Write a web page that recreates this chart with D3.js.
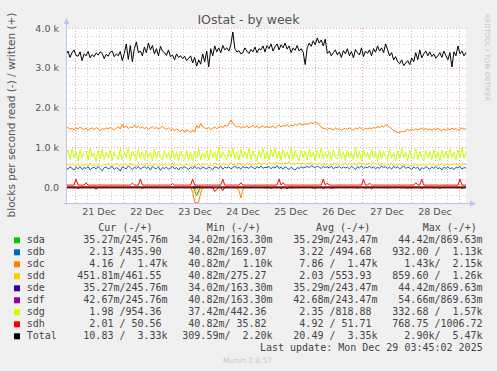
<!DOCTYPE html>
<html>
<head>
<meta charset="utf-8">
<script src="https://cdn.jsdelivr.net/npm/d3@7"></script>
<style>
  body { margin: 0; background: #f0f0f0; }
  svg { display: block; }
</style>
</head>
<body>
<svg id="chart" width="497" height="371"></svg>
<script>
// --- data (blocks/s, 1 sample per hour) ---
const xTickLabels = ['21 Dec', '22 Dec', '23 Dec', '24 Dec', '25 Dec', '26 Dec', '27 Dec', '28 Dec']
const yTickValues = [0, 1000, 2000, 3000, 4000]
const yTickLabels = ['0.0', '1.0 k', '2.0 k', '3.0 k', '4.0 k']

const totalWrite = [
  3330, 3420, 3260, 3380, 3450, 3310, 3290, 3400, 3180, 3350,
  3300, 3410, 3250, 3330, 3280, 3370, 3320, 3400, 3360, 3230,
  3340, 3290, 3390, 3420, 3280, 3350, 3300, 3410, 3180, 3360,
  3600, 3210, 3560, 3150, 3480, 3650, 3380, 3420, 3300, 3520,
  3380, 3620, 3450, 3560, 3350, 3480, 3300, 3540, 3420, 3380,
  3310, 3450, 3280, 3320, 3200, 3350, 3260, 3300, 3230, 3290,
  3180, 3240, 3300, 3120, 3260, 3040, 3200, 3090, 3350, 3150,
  3420, 3020, 3480, 3300, 3550, 3400, 3500, 3380, 3560, 3450,
  3500, 3420, 3580, 3900, 3480, 3400, 3430, 3350, 3380, 3500,
  3420, 3360, 3460, 3400, 3520, 3380, 3480, 3450, 3550, 3400,
  3560, 3480, 3600, 3420, 3530, 3600, 3450, 3580, 3500, 3620,
  3470, 3550, 3380, 3500, 3440, 3560, 3420, 3480, 3390, 3080,
  3500, 3620, 3540, 3680, 3580, 3750, 3620, 3700, 3550, 3720,
  3360, 3420, 3300, 3380, 3450, 3320, 3400, 3260, 3430, 3350,
  3480, 3300, 3410, 3250, 3460, 3380, 3320, 3500, 3280, 3420,
  3360, 3450, 3300, 3480, 3390, 3550, 3420, 3500, 3380, 3600,
  3450, 3300, 3380, 3200, 3280, 3150, 3100, 3200, 3050, 3120,
  3180, 3080, 3250, 3150, 3380, 3200, 3450, 3250, 3350, 3420,
  3300, 3400, 3280, 3350, 3240, 3300, 3380, 3260, 3420, 3310,
  3200, 3380, 3020, 3400, 3300, 3550, 3350, 3420, 3300, 3380
]
const sdcWrite = [
  1470, 1500, 1450, 1480, 1440, 1490, 1460, 1510, 1470, 1450,
  1480, 1430, 1470, 1490, 1440, 1500, 1460, 1420, 1470, 1450,
  1490, 1460, 1500, 1470, 1440, 1480, 1520, 1460, 1580, 1500,
  1540, 1470, 1510, 1490, 1560, 1500, 1530, 1480, 1510, 1470,
  1500, 1450, 1490, 1520, 1470, 1500, 1460, 1490, 1530, 1480,
  1450, 1490, 1440, 1470, 1420, 1460, 1430, 1400, 1450, 1380,
  1440, 1410, 1370, 1430, 1390, 1550, 1480, 1600, 1520, 1490,
  1460, 1500, 1440, 1480, 1510, 1470, 1500, 1530, 1490, 1560,
  1520, 1580, 1690, 1600, 1550, 1510, 1530, 1480, 1520, 1500,
  1540, 1490, 1520, 1560, 1500, 1530, 1480, 1510, 1550, 1490,
  1530, 1500, 1510, 1540, 1480, 1520, 1560, 1510, 1550, 1530,
  1570, 1520, 1560, 1540, 1580, 1550, 1600, 1570, 1560, 1590,
  1580, 1600, 1620, 1590, 1640, 1610, 1570, 1500, 1480, 1470,
  1450, 1480, 1460, 1440, 1490, 1450, 1470, 1430, 1460, 1480,
  1450, 1490, 1460, 1430, 1480, 1460, 1500, 1470, 1440, 1480,
  1460, 1490, 1470, 1500, 1480, 1520, 1500, 1540, 1510, 1560,
  1550, 1500, 1470, 1420, 1400, 1370, 1380, 1400, 1390, 1420,
  1450, 1420, 1460, 1430, 1470, 1440, 1460, 1480, 1450, 1470,
  1440, 1460, 1430, 1470, 1450, 1480, 1440, 1420, 1460, 1430,
  1470, 1440, 1480, 1450, 1470, 1430, 1460, 1490, 1450, 1470
]
const sdgWrite = [
  820, 930, 690, 960, 740, 880, 660, 940, 720, 870,
  910, 680, 980, 750, 860, 650, 920, 710, 950, 700,
  880, 730, 940, 670, 900, 760, 700, 970, 690, 880,
  740, 990, 660, 910, 780, 690, 950, 720, 890, 670,
  930, 750, 880, 650, 960, 710, 900, 770, 680, 920,
  730, 870, 680, 940, 700, 890, 660, 910, 760, 700,
  930, 670, 880, 650, 900, 730, 970, 690, 860, 720,
  920, 680, 950, 740, 890, 660, 1000, 730, 900, 760,
  690, 940, 730, 990, 710, 900, 670, 950, 750, 880,
  720, 980, 690, 910, 760, 650, 930, 740, 970, 710,
  900, 680, 940, 760, 990, 720, 890, 670, 950, 740,
  880, 710, 970, 690, 920, 750, 660, 930, 730, 900,
  690, 950, 750, 880, 650, 920, 740, 990, 710, 870,
  730, 910, 670, 940, 750, 700, 960, 720, 890, 660,
  920, 740, 880, 690, 1000, 710, 900, 650, 930, 750,
  870, 690, 950, 730, 880, 660, 930, 710, 900, 740,
  690, 960, 730, 870, 650, 920, 710, 980, 740, 890,
  670, 930, 750, 720, 970, 690, 900, 740, 660, 920,
  730, 890, 690, 950, 710, 880, 670, 930, 750, 900,
  710, 960, 740, 880, 690, 930, 750, 980, 720, 900
]
const sddWrite = [
  540, 570, 520, 590, 550, 530, 580, 510, 560, 545,
  575, 530, 600, 540, 560, 520, 585, 550, 530, 570,
  545, 590, 520, 565, 540, 600, 555, 530, 580, 550,
  570, 525, 610, 545, 565, 520, 590, 550, 575, 535,
  600, 545, 560, 530, 585, 555, 520, 590, 545, 570,
  530, 580, 550, 600, 525, 565, 545, 590, 520, 560,
  580, 535, 570, 510, 560, 545, 600, 530, 575, 550,
  590, 540, 565, 520, 610, 550, 575, 530, 595, 555,
  570, 540, 620, 560, 580, 545, 600, 555, 585, 540,
  605, 560, 575, 545, 590, 565, 615, 550, 580, 600,
  560, 620, 575, 590, 555, 630, 580, 600, 565, 610,
  585, 640, 570, 600, 560, 620, 590, 575, 605, 560,
  595, 570, 610, 550, 585, 565, 600, 540, 580, 555,
  590, 545, 575, 560, 600, 540, 585, 555, 570, 610,
  560, 590, 545, 600, 570, 555, 620, 565, 590, 550,
  580, 600, 560, 625, 575, 590, 545, 580, 560, 530,
  575, 550, 590, 530, 565, 545, 580, 525, 560, 540,
  575, 520, 560, 545, 590, 530, 565, 550, 580, 535,
  560, 590, 540, 575, 525, 565, 550, 595, 535, 560,
  580, 540, 570, 555, 600, 530, 565, 550, 590, 545
]
const sdbWrite = [
  480, 450, 510, 470, 430, 500, 460, 520, 440, 490,
  470, 510, 430, 480, 500, 450, 520, 460, 410, 490,
  500, 460, 480, 520, 440, 490, 470, 400, 510, 480,
  460, 530, 490, 440, 500, 470, 520, 450, 490, 510,
  470, 500, 430, 520, 480, 460, 510, 420, 490, 470,
  500, 450, 480, 520, 460, 490, 430, 500, 470, 510,
  480, 440, 500, 460, 520, 470, 490, 450, 510, 480,
  460, 500, 480, 430, 510, 490, 470, 520, 450, 500,
  480, 510, 460, 490, 530, 470, 500, 450, 520, 480,
  500, 470, 520, 490, 460, 510, 480, 530, 470, 500,
  490, 520, 460, 510, 480, 540, 470, 500, 450, 510,
  480, 440, 500, 460, 430, 490, 470, 510, 480, 500,
  520, 490, 540, 510, 480, 530, 500, 470, 520, 490,
  510, 480, 530, 460, 500, 490, 520, 470, 510, 480,
  500, 460, 520, 490, 440, 510, 480, 530, 470, 500,
  490, 520, 480, 510, 460, 500, 470, 530, 490, 510,
  470, 500, 450, 520, 480, 510, 460, 490, 530, 470,
  500, 480, 440, 510, 470, 500, 420, 490, 460, 510,
  480, 450, 500, 470, 520, 460, 490, 430, 500, 470,
  510, 460, 490, 440, 500, 480, 520, 450, 490, 480
]
const sdhWrite = [
  50, 49, 51, 50, 48, 200, 52, 50, 49, 51,
  110, 50, 48, 51, 50, 49, 52, 50, 51, 49,
  50, 48, 51, 50, 52, 49, 50, 51, 48, 50,
  49, 51, 50, 100, 52, 49, 50, 200, 51, 48,
  50, 52, 49, 50, 51, 48, 50, 49, 52, 50,
  51, 49, 50, 90, 48, 51, 50, 52, 49, 50,
  48, 51, 50, 200, 49, 52, 50, 48, 51, 50,
  49, 50, 52, 48, 51, 50, 49, 51, 200, 50,
  48, 51, 50, 49, 52, 50, 48, 110, 51, 49,
  50, 52, 49, 51, 48, 50, 51, 49, 50, 52,
  49, 50, 51, 48, 50, 52, 200, 49, 110, 51,
  50, 48, 51, 49, 52, 50, 49, 51, 50, 48,
  51, 50, 49, 52, 48, 50, 51, 49, 200, 50,
  100, 49, 51, 50, 48, 52, 49, 50, 51, 49,
  50, 52, 48, 51, 49, 50, 52, 48, 200, 50,
  49, 100, 51, 50, 48, 52, 49, 51, 50, 49,
  52, 48, 50, 51, 49, 50, 52, 48, 51, 50,
  49, 51, 50, 48, 110, 52, 49, 200, 50, 51,
  48, 50, 52, 49, 51, 50, 48, 51, 50, 49,
  52, 50, 49, 51, 48, 50, 200, 49, 51, 50
]
// reads are drawn below zero
const sdcRead = [
  8, 7, 9, 8, 6, 8, 9, 7, 8, 8,
  7, 9, 8, 8, 7, 8, 9, 8, 7, 8,
  8, 9, 7, 8, 8, 7, 9, 8, 8, 7,
  8, 8, 9, 7, 8, 8, 7, 9, 8, 8,
  7, 8, 9, 8, 7, 8, 8, 9, 7, 8,
  8, 7, 8, 9, 8, 8, 7, 8, 9, 8,
  7, 8, 9, 120, 380, 390, 380, 150, 8, 7,
  9, 8, 8, 7, 8, 9, 8, 7, 8, 8,
  9, 7, 8, 8, 9, 7, 80, 270, 60, 8,
  7, 8, 9, 8, 7, 8, 8, 9, 7, 8,
  30, 8, 7, 9, 8, 8, 7, 8, 9, 8,
  7, 8, 25, 8, 9, 7, 8, 8, 9, 7,
  8, 8, 7, 30, 8, 9, 8, 7, 8, 8,
  9, 7, 8, 25, 8, 8, 7, 9, 8, 8,
  7, 8, 9, 8, 7, 30, 8, 8, 9, 7,
  8, 8, 7, 9, 8, 8, 7, 8, 9, 8,
  25, 8, 9, 7, 8, 8, 9, 7, 8, 8,
  7, 9, 30, 8, 8, 7, 8, 9, 8, 7,
  8, 8, 9, 25, 8, 7, 8, 8, 9, 7,
  8, 8, 7, 9, 8, 8, 7, 8, 9, 8
]
const sdgRead = [
  2, 3, 2, 2, 3, 2, 2, 2, 3, 2,
  2, 2, 3, 2, 2, 3, 2, 2, 2, 3,
  2, 3, 2, 2, 2, 3, 2, 2, 3, 2,
  2, 2, 3, 2, 2, 2, 3, 2, 2, 3,
  2, 2, 2, 3, 2, 2, 3, 2, 2, 2,
  3, 2, 2, 2, 3, 2, 2, 3, 2, 2,
  2, 3, 2, 2, 150, 200, 180, 2, 3, 2,
  2, 2, 3, 2, 2, 3, 2, 2, 2, 3,
  2, 2, 3, 2, 2, 2, 3, 2, 2, 3,
  2, 2, 2, 3, 2, 2, 3, 2, 2, 2,
  3, 2, 2, 3, 2, 2, 2, 3, 2, 2,
  2, 3, 2, 2, 3, 2, 2, 2, 3, 2,
  2, 2, 3, 2, 2, 3, 2, 2, 2, 3,
  2, 2, 3, 2, 2, 2, 3, 2, 2, 3,
  2, 2, 2, 3, 2, 2, 3, 2, 2, 2,
  3, 2, 2, 3, 2, 2, 2, 3, 2, 2,
  2, 3, 2, 2, 3, 2, 2, 2, 3, 2,
  2, 2, 3, 2, 2, 3, 2, 2, 2, 3,
  2, 2, 3, 2, 2, 2, 3, 2, 2, 3,
  2, 2, 2, 3, 2, 2, 3, 2, 2, 2
]
const sddRead = [
  2, 2, 2, 3, 2, 2, 2, 2, 2, 3,
  2, 2, 2, 2, 3, 2, 2, 2, 2, 2,
  3, 2, 2, 2, 2, 2, 3, 2, 2, 2,
  2, 2, 2, 3, 2, 2, 2, 2, 2, 3,
  2, 2, 2, 2, 3, 2, 2, 2, 2, 2,
  3, 2, 2, 2, 2, 2, 3, 2, 2, 2,
  2, 2, 2, 3, 60, 80, 2, 2, 2, 3,
  2, 2, 2, 2, 3, 2, 2, 2, 2, 2,
  3, 2, 2, 2, 2, 2, 3, 2, 2, 2,
  2, 2, 2, 3, 2, 2, 2, 2, 2, 3,
  2, 2, 2, 2, 3, 2, 2, 2, 2, 2,
  3, 2, 2, 2, 2, 2, 3, 2, 2, 2,
  2, 2, 2, 3, 2, 2, 2, 2, 2, 3,
  2, 2, 2, 2, 3, 2, 2, 2, 2, 2,
  3, 2, 2, 2, 2, 2, 3, 2, 2, 2,
  2, 2, 2, 3, 2, 2, 2, 2, 2, 3,
  2, 2, 2, 2, 3, 2, 2, 2, 2, 2,
  3, 2, 2, 2, 2, 2, 3, 2, 2, 2,
  2, 2, 2, 3, 2, 2, 2, 2, 2, 3,
  2, 2, 2, 2, 3, 2, 2, 2, 2, 2
]
const sdbRead = [
  3, 3, 4, 3, 3, 3, 4, 3, 3, 3,
  4, 3, 3, 3, 4, 3, 3, 3, 4, 3,
  3, 3, 4, 3, 3, 3, 4, 3, 3, 3,
  4, 3, 3, 3, 4, 3, 3, 3, 4, 3,
  3, 3, 4, 3, 3, 3, 4, 3, 3, 3,
  4, 3, 3, 3, 4, 3, 3, 3, 4, 3,
  3, 3, 4, 3, 100, 220, 90, 3, 3, 3,
  4, 3, 3, 3, 4, 3, 3, 3, 4, 3,
  3, 3, 4, 3, 3, 3, 4, 3, 3, 3,
  4, 3, 3, 3, 4, 3, 3, 3, 4, 3,
  3, 3, 4, 3, 3, 3, 4, 3, 3, 3,
  4, 3, 3, 3, 4, 3, 3, 3, 4, 3,
  3, 3, 4, 3, 3, 3, 4, 3, 3, 3,
  4, 3, 3, 3, 4, 3, 3, 3, 4, 3,
  3, 3, 4, 3, 3, 3, 4, 3, 3, 3,
  4, 3, 3, 3, 4, 3, 3, 3, 4, 3,
  3, 3, 4, 3, 3, 3, 4, 3, 3, 3,
  4, 3, 3, 3, 4, 3, 3, 3, 4, 3,
  3, 3, 4, 3, 3, 3, 4, 3, 3, 3,
  4, 3, 3, 3, 4, 3, 3, 3, 4, 3
]
const sdhRead = [
  4, 5, 4, 4, 5, 4, 40, 4, 5, 4,
  4, 5, 4, 4, 5, 60, 4, 4, 5, 4,
  4, 5, 4, 4, 5, 4, 4, 5, 4, 4,
  5, 4, 4, 5, 4, 4, 5, 4, 30, 4,
  4, 5, 4, 4, 5, 4, 4, 5, 4, 4,
  5, 4, 4, 5, 4, 4, 5, 4, 4, 5,
  4, 4, 5, 4, 30, 4, 5, 4, 4, 5,
  4, 4, 5, 4, 110, 60, 4, 4, 90, 4,
  5, 4, 4, 5, 4, 4, 5, 4, 4, 5,
  4, 4, 5, 4, 4, 5, 4, 4, 5, 4,
  4, 5, 30, 4, 4, 5, 4, 40, 4, 5,
  40, 4, 5, 4, 4, 5, 4, 4, 5, 4,
  4, 5, 4, 4, 35, 4, 4, 5, 40, 4,
  4, 5, 30, 4, 4, 5, 4, 4, 5, 4,
  4, 5, 4, 4, 5, 4, 4, 5, 4, 35,
  4, 5, 40, 4, 4, 5, 4, 4, 5, 4,
  4, 5, 4, 4, 5, 4, 4, 5, 4, 4,
  30, 4, 5, 4, 4, 5, 4, 40, 4, 4,
  5, 4, 4, 5, 4, 4, 35, 4, 4, 5,
  4, 4, 5, 4, 4, 5, 4, 40, 4, 4
]
const totalRead = [
  20, 21, 19, 20, 22, 20, 21, 19, 20, 21,
  20, 19, 21, 20, 20, 22, 19, 20, 21, 20,
  19, 21, 20, 20, 21, 19, 20, 22, 20, 21,
  20, 19, 21, 20, 20, 21, 19, 20, 21, 20,
  22, 20, 19, 21, 20, 20, 21, 19, 20, 21,
  20, 19, 21, 20, 22, 20, 21, 19, 20, 21,
  20, 19, 21, 20, 20, 21, 19, 20, 21, 20,
  22, 20, 19, 21, 20, 20, 21, 19, 20, 21,
  20, 19, 21, 20, 20, 22, 19, 20, 21, 20,
  19, 21, 20, 20, 21, 19, 20, 22, 20, 21,
  20, 19, 21, 20, 20, 21, 19, 20, 21, 20,
  22, 20, 19, 21, 20, 20, 21, 19, 20, 21,
  20, 19, 21, 20, 22, 20, 21, 19, 20, 21,
  20, 19, 21, 20, 20, 21, 19, 20, 21, 20,
  22, 20, 19, 21, 20, 20, 21, 19, 20, 21,
  20, 19, 21, 20, 20, 22, 19, 20, 21, 20,
  19, 21, 20, 20, 21, 19, 20, 22, 20, 21,
  20, 19, 21, 20, 20, 21, 19, 20, 21, 20,
  22, 20, 19, 21, 20, 20, 21, 19, 20, 21,
  20, 19, 21, 20, 20, 21, 19, 20, 21, 20
]
// the three idle disks sit right on the zero line
const sdaWrite = [0.25, 0.24, 0.25, 0.24, 0.25, 0.24, 0.25, 0.24]
const sdaRead = [0.035, 0.034, 0.035, 0.036, 0.035, 0.034, 0.035, 0.035]
const sdeWrite = [0.25, 0.24, 0.25, 0.24, 0.25, 0.24, 0.25, 0.24]
const sdeRead = [0.035, 0.034, 0.035, 0.036, 0.035, 0.034, 0.035, 0.035]
const sdfWrite = [0.25, 0.24, 0.25, 0.24, 0.25, 0.24, 0.25, 0.24]
const sdfRead = [0.043, 0.042, 0.043, 0.044, 0.043, 0.042, 0.043, 0.043]

// legend table
const legendNames = ['sda', 'sdb', 'sdc', 'sdd', 'sde', 'sdf', 'sdg', 'sdh', 'Total']
const legendColors = ['#00cc00', '#0066b3', '#ff8000', '#ffcc00', '#330099', '#990099', '#ccff00', '#ff0000', '#000000']
const curText = [' 35.27m/245.76m', '  2.13 /435.90 ', '  4.16 /  1.47k', '451.81m/461.55 ', ' 35.27m/245.76m', ' 42.67m/245.76m', '  1.98 /954.36 ', '  2.01 / 50.56 ', ' 10.83 /  3.33k']
const minText = [' 34.02m/163.30m', ' 40.82m/169.07 ', ' 40.82m/  1.10k', ' 40.82m/275.27 ', ' 34.02m/163.30m', ' 40.82m/163.30m', ' 37.42m/442.36 ', ' 40.82m/ 35.82 ', '309.59m/  2.20k']
const avgText = [' 35.29m/243.47m', '  3.22 /494.68 ', '  7.86 /  1.47k', '  2.03 /553.93 ', ' 35.29m/243.47m', ' 42.68m/243.47m', '  2.35 /818.88 ', '  4.92 / 51.71 ', ' 20.49 /  3.35k']
const maxText = [' 44.42m/869.63m', '932.00 /  1.13k', '  1.43k/  2.15k', '859.60 /  1.26k', ' 44.42m/869.63m', ' 54.66m/869.63m', '332.68 /  1.57k', '768.75 /1006.72', '  2.90k/  5.47k']

const series = [
  { color: '#00cc00', read: sdaRead, write: sdaWrite },
  { color: '#0066b3', read: sdbRead, write: sdbWrite },
  { color: '#ff8000', read: sdcRead, write: sdcWrite },
  { color: '#ffcc00', read: sddRead, write: sddWrite },
  { color: '#330099', read: sdeRead, write: sdeWrite },
  { color: '#990099', read: sdfRead, write: sdfWrite },
  { color: '#ccff00', read: sdgRead, write: sdgWrite },
  { color: '#ff0000', read: sdhRead, write: sdhWrite },
  { color: '#000000', read: totalRead, write: totalWrite }
]

const plotLeft = 66, plotRight = 466, plotTop = 28, plotBottom = 203
const tStart = Date.UTC(2025, 11, 20, 19, 45)
const tEnd = Date.UTC(2025, 11, 29, 3, 45)
const HOUR = 3600 * 1000

const x = d3.scaleUtc().domain([tStart, tEnd]).range([plotLeft, plotRight])
const y = d3.scaleLinear().domain([-400, 4000]).range([plotBottom, plotTop])

const svg = d3.select('#chart')
svg.append('rect').attr('width', 497).attr('height', 371).attr('fill', '#f0f0f0')
svg.append('rect')
  .attr('x', plotLeft).attr('y', plotTop)
  .attr('width', plotRight - plotLeft).attr('height', plotBottom - plotTop)
  .attr('fill', '#ffffff')

svg.append('clipPath').attr('id', 'plotclip')
  .append('rect')
  .attr('x', plotLeft).attr('y', plotTop)
  .attr('width', plotRight - plotLeft + 1).attr('height', plotBottom - plotTop)

// grid: minor every 6h / 200, major every day / 1000
const minorX = d3.utcHour.every(6).range(tStart, tEnd).filter(d => d.getUTCHours() !== 0)
const majorX = d3.utcDay.range(tStart, tEnd)
const minorY = d3.range(-200, 4000, 200).filter(v => v % 1000 !== 0)
const majorY = [0, 1000, 2000, 3000, 4000]
const minorColor = '#d2d2d2', majorColor = '#eca4a4'

const grid = svg.append('g').attr('shape-rendering', 'crispEdges')
grid.selectAll('line.vminor').data(minorX).enter().append('line')
  .attr('x1', d => Math.round(x(d)) + 0.5).attr('x2', d => Math.round(x(d)) + 0.5)
  .attr('y1', plotTop).attr('y2', plotBottom)
  .attr('stroke', minorColor).attr('stroke-dasharray', '1,2')
grid.selectAll('line.hminor').data(minorY).enter().append('line')
  .attr('x1', plotLeft).attr('x2', plotRight)
  .attr('y1', d => Math.round(y(d)) + 0.5).attr('y2', d => Math.round(y(d)) + 0.5)
  .attr('stroke', minorColor).attr('stroke-dasharray', '1,2')
grid.selectAll('line.vmajor').data(majorX).enter().append('line')
  .attr('x1', d => Math.round(x(d)) + 0.5).attr('x2', d => Math.round(x(d)) + 0.5)
  .attr('y1', plotTop).attr('y2', plotBottom)
  .attr('stroke', majorColor).attr('stroke-dasharray', '1,2')
grid.selectAll('line.hmajor').data(majorY).enter().append('line')
  .attr('x1', plotLeft).attr('x2', plotRight)
  .attr('y1', d => Math.round(y(d)) + 0.5).attr('y2', d => Math.round(y(d)) + 0.5)
  .attr('stroke', majorColor).attr('stroke-dasharray', '1,2')

// lines
function points(arr, sign) {
  const step = (tEnd - tStart) / (arr.length - 1)
  return arr.map((v, i) => [x(tStart + i * step), y(sign * v)])
}
const line = d3.line()
const plot = svg.append('g').attr('clip-path', 'url(#plotclip)')
series.forEach(s => {
  plot.append('path')
    .attr('d', line(points(s.read, -1)))
    .attr('fill', 'none').attr('stroke', s.color).attr('stroke-width', 1)
  plot.append('path')
    .attr('d', line(points(s.write, 1)))
    .attr('fill', 'none').attr('stroke', s.color).attr('stroke-width', 1)
})

// axes lines with arrows
const axisColor = '#bcc4f2'
svg.append('line')
  .attr('x1', plotLeft + 0.5).attr('x2', plotLeft + 0.5).attr('y1', plotBottom + 2).attr('y2', plotTop - 5)
  .attr('stroke', axisColor)
svg.append('path')
  .attr('d', `M${plotLeft - 2.5},${plotTop - 4} L${plotLeft + 3.5},${plotTop - 4} L${plotLeft + 0.5},${plotTop - 10} Z`)
  .attr('fill', axisColor)
svg.append('line')
  .attr('x1', plotLeft - 2).attr('x2', plotRight + 5).attr('y1', plotBottom + 0.5).attr('y2', plotBottom + 0.5)
  .attr('stroke', axisColor)
svg.append('path')
  .attr('d', `M${plotRight + 4},${plotBottom - 2.5} L${plotRight + 4},${plotBottom + 3.5} L${plotRight + 10},${plotBottom + 0.5} Z`)
  .attr('fill', axisColor)

// tick labels
const noons = d3.utcDay.range(tStart, tEnd).map(d => new Date(+d + 12 * HOUR)).filter(d => +d < tEnd)
const xAxis = svg.append('g')
  .attr('transform', `translate(0, ${plotBottom})`)
  .call(d3.axisBottom(x).tickValues(noons).tickSize(0).tickPadding(5).tickFormat((d, i) => xTickLabels[i]))
xAxis.select('.domain').remove()
xAxis.selectAll('text').attr('fill', '#555').attr('font-family', 'DejaVu Sans').attr('font-size', 9.5)

const yAxis = svg.append('g')
  .attr('transform', `translate(${plotLeft}, 0)`)
  .call(d3.axisLeft(y).tickValues(yTickValues).tickSize(0).tickPadding(7).tickFormat((d, i) => yTickLabels[i]))
yAxis.select('.domain').remove()
yAxis.selectAll('text').attr('fill', '#555').attr('font-family', 'DejaVu Sans').attr('font-size', 9.5)

// titles
svg.append('text')
  .text('IOstat - by week')
  .attr('x', 248.5).attr('y', 23.5)
  .attr('text-anchor', 'middle')
  .attr('font-family', 'DejaVu Sans').attr('font-size', 12.5)
  .attr('fill', '#555')

svg.append('text')
  .text('blocks per second read (-) / written (+)')
  .attr('transform', 'translate(11, 115) rotate(-90)')
  .attr('text-anchor', 'middle').attr('dy', '0.35em')
  .attr('font-family', 'DejaVu Sans').attr('font-size', 10.5)
  .attr('fill', '#555')

svg.append('text')
  .text('RRDTOOL / TOBI OETIKER')
  .attr('transform', 'translate(487, 57.5) rotate(90)')
  .attr('text-anchor', 'middle').attr('dy', '0.35em')
  .attr('font-family', 'DejaVu Sans').attr('font-size', 6.8)
  .attr('fill', '#c4c4c4')

// legend
const mono = 'DejaVu Sans Mono'
const headers = [['Cur (-/+)', 98.3], ['Min (-/+)', 206.7], ['Avg (-/+)', 316], ['Max (-/+)', 422.7]]
svg.selectAll('text.hdr').data(headers).enter().append('text')
  .attr('class', 'hdr')
  .text(d => d[0])
  .attr('x', d => d[1]).attr('y', 231.3)
  .attr('font-family', mono).attr('font-size', 10).attr('fill', '#444')

const columns = [[curText, 77.3], [minText, 182.3], [avgText, 287.3], [maxText, 392.3]]
const rows = svg.selectAll('g.row').data(legendNames).enter().append('g')
  .attr('class', 'row')
  .attr('transform', (d, i) => `translate(0, ${i * 12})`)
rows.append('rect')
  .attr('x', 14).attr('y', 237.3).attr('width', 6).attr('height', 6)
  .attr('fill', (d, i) => legendColors[i])
rows.append('text')
  .text(d => d)
  .attr('x', 26.7).attr('y', 243.2)
  .attr('font-family', mono).attr('font-size', 10).attr('fill', '#444')
columns.forEach(col => {
  rows.append('text')
    .text((d, i) => col[0][i])
    .attr('x', col[1]).attr('y', 243.2)
    .style('white-space', 'pre')
    .attr('font-family', mono).attr('font-size', 10).attr('fill', '#444')
})

svg.append('text')
  .text('Last update: Mon Dec 29 03:45:02 2025')
  .attr('x', 482.7).attr('y', 351.3)
  .attr('text-anchor', 'end')
  .attr('font-family', mono).attr('font-size', 10).attr('fill', '#444')

svg.append('text')
  .text('Munin 2.0.57')
  .attr('x', 247.5).attr('y', 362.7)
  .attr('text-anchor', 'middle')
  .attr('font-family', 'DejaVu Sans').attr('font-size', 7.5)
  .attr('fill', '#c8c8c8')
</script>
</body>
</html>
